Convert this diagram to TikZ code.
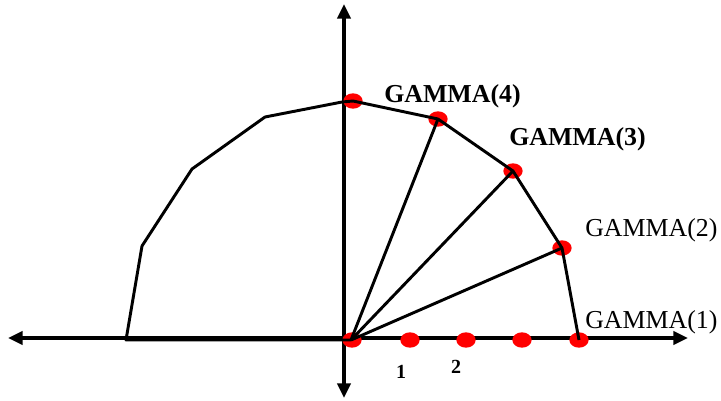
\documentclass[tikz,border=0pt]{standalone}
\usepackage{fontspec}
\setmainfont{Liberation Serif}
\usetikzlibrary{arrows.meta,shapes.geometric}

\begin{document}
\begin{tikzpicture}[
  x=0.75pt, y=-0.75pt,
  axis/.style={line width=2.4pt, -{Triangle[length=11pt, width=10pt]}},
  edge/.style={line width=2.2pt, line join=round},
  dot/.style={ellipse, fill=red, inner sep=0pt, minimum width=14.5pt, minimum height=11.5pt},
  lab/.style={anchor=base west, inner sep=0pt, font=\fontsize{19.4}{22}\selectfont},
  num/.style={anchor=base, inner sep=0pt, font=\fontsize{15}{17}\selectfont\bfseries}]
\useasboundingbox (0,0) rectangle (721,400);

% axes
\coordinate (xl) at (8,338);
\coordinate (xr) at (688,338);
\coordinate (yt) at (344,4);
\coordinate (yb) at (344,398);
\draw[axis] (343,338) -- (xl);
\draw[axis] (343,338) -- (xr);
\draw[axis] (344,338) -- (yt);
\draw[axis] (344,338) -- (yb);

% polygon corners
\coordinate (o) at (351,340);
\coordinate (q0) at (126,340);
\coordinate (q1) at (142,246);
\coordinate (q2) at (192,169);
\coordinate (q3) at (265,117);
\coordinate (q4) at (342,102);

% dots
\node[dot] (d0) at (352,340) {};
\node[dot] (d1) at (410,340) {};
\node[dot] (d2) at (466,340) {};
\node[dot] (d3) at (522,340) {};
\node[dot] (g1) at (579,340) {};
\node[dot] (g2) at (562,248) {};
\node[dot] (g3) at (513,171) {};
\node[dot] (g4) at (438,119) {};
\node[dot] (g5) at (353,101) {};

\draw[edge] (o) -- (q0) -- (q1) -- (q2) -- (q3) -- (q4) -- (g5.center)
  -- (g4.center) -- (g3.center) -- (g2.center) -- (g1.center);
\draw[edge] (o) -- (g4.center);
\draw[edge] (o) -- (g3.center);
\draw[edge] (o) -- (g2.center);

% labels
\node[lab, font=\fontsize{19.4}{22}\selectfont\bfseries] (t4) at (384,102) {GAMMA(4)};
\node[lab, font=\fontsize{19.4}{22}\selectfont\bfseries] (t3) at (509,145) {GAMMA(3)};
\node[lab] (t2) at (585,236) {GAMMA(2)};
\node[lab] (t1) at (585,328) {GAMMA(1)};
\node[num] (n1) at (401,378) {1};
\node[num] (n2) at (456,373) {2};
\end{tikzpicture}
\end{document}
